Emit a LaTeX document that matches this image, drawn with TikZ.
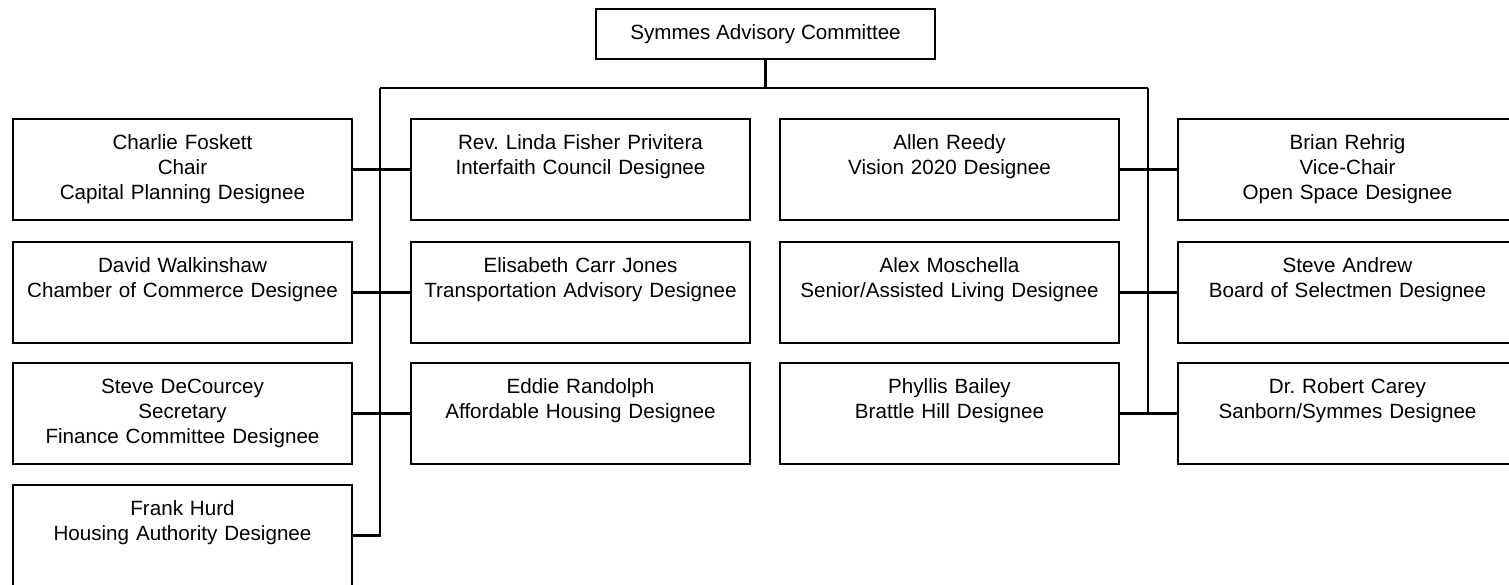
\documentclass[tikz,border=0pt]{standalone}
\usepackage{fontspec}
\setmainfont{Liberation Sans}
\frenchspacing
\begin{document}
\begin{tikzpicture}[x=0.02cm, y=-0.02cm,
        member/.style={draw, line width=0.05cm, text width=6.78cm, inner xsep=0pt, inner ysep=0pt,
            text height=0.6cm, text depth=1.42cm, align=center, font=\fontsize{11.74}{14.46}\selectfont},
        head/.style={draw, line width=0.05cm, minimum width=6.78cm, minimum height=1cm,
            font=\fontsize{11.74}{14.46}\selectfont},
        link/.style={line width=0.05cm}]
        \useasboundingbox (0,0) rectangle (1509,585);

        \node[head] (sac) at (765.5,34) {Symmes Advisory Committee};

        \node[member] (cf) at (182.5,169.5) {Charlie Foskett\\Chair\\Capital Planning Designee};
        \node[member] (dw) at (182.5,292.5) {David Walkinshaw\\Chamber of Commerce Designee};
        \node[member] (sd) at (182.5,413.5) {Steve DeCourcey\\Secretary\\Finance Committee Designee};
        \node[member] (fh) at (182.5,535.5) {Frank Hurd\\Housing Authority Designee};

        \node[member] (lf) at (580.5,169.5) {Rev. Linda Fisher Privitera\\Interfaith Council Designee};
        \node[member] (ec) at (580.5,292.5) {Elisabeth Carr Jones\\Transportation Advisory Designee};
        \node[member] (er) at (580.5,413.5) {Eddie Randolph\\Affordable Housing Designee};

        \node[member] (ar) at (949.5,169.5) {Allen Reedy\\Vision 2020 Designee};
        \node[member] (am) at (949.5,292.5) {Alex Moschella\\Senior/Assisted Living Designee};
        \node[member] (pb) at (949.5,413.5) {Phyllis Bailey\\Brattle Hill Designee};

        \node[member] (br) at (1347.5,169.5) {Brian Rehrig\\Vice-Chair\\Open Space Designee};
        \node[member] (sa) at (1347.5,292.5) {Steve Andrew\\Board of Selectmen Designee};
        \node[member] (rc) at (1347.5,413.5) {Dr. Robert Carey\\Sanborn/Symmes Designee};

        \coordinate (lbus) at (380,88);
        \coordinate (rbus) at (1148,88);

        \draw[link] (sac.south) -- (sac.south |- lbus);
        \draw[link] (lbus) -- (rbus);
        \draw[link] (lbus) -- (lbus |- fh.east) -- (fh.east);
        \draw[link] (rbus) -- (rbus |- pb.east);

        \draw[link] (cf.east) -- (lf.west);
        \draw[link] (dw.east) -- (ec.west);
        \draw[link] (sd.east) -- (er.west);
        \draw[link] (ar.east) -- (br.west);
        \draw[link] (am.east) -- (sa.west);
        \draw[link] (pb.east) -- (rc.west);
    \end{tikzpicture}
\end{document}
